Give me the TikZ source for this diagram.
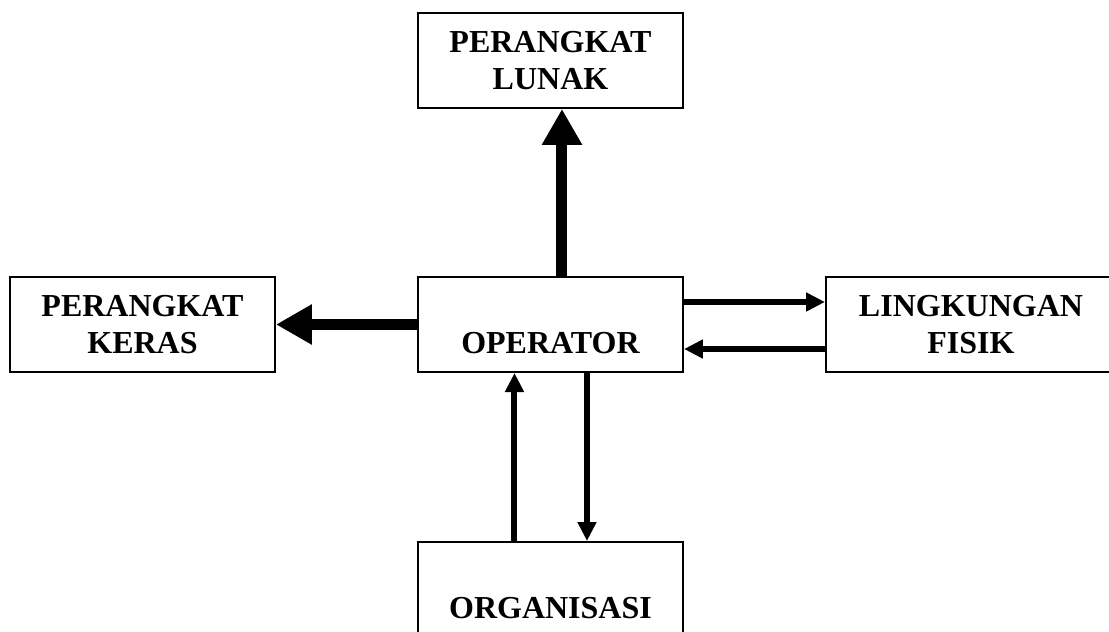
\documentclass[tikz,border=0pt]{standalone}
\usepackage{fontspec}
\setmainfont{Liberation Serif}
\usetikzlibrary{positioning, arrows.meta}

\begin{document}
\begin{tikzpicture}[font=\fontsize{32}{37.5}\selectfont\bfseries]

    \tikzstyle{block} = [draw, rectangle, line width=2pt, minimum width=265pt, minimum height=95pt, align=center, inner sep=0pt]
    \tikzstyle{bigarrow} = [line width=11pt, -{Triangle[length=36pt, width=38pt]}]
    \tikzstyle{smallarrow} = [line width=6pt, -{Triangle[length=19pt, width=18pt]}]

    \useasboundingbox (-550.5pt,-307.5pt) rectangle (558.5pt,324.5pt);

    % Centre
    \node[block] (op) {\vphantom{A}\\OPERATOR};

    % Around the operator
    \node[block, above of=op, node distance=264pt] (lunak) {PERANGKAT\\LUNAK};
    \node[block, left of=op, node distance=408pt] (keras) {PERANGKAT\\KERAS};
    \node[block, right of=op, node distance=420.5pt, minimum width=290pt] (fisik) {LINGKUNGAN\\FISIK};
    \node[block, below of=op, node distance=265pt] (org) {\vphantom{A}\\ORGANISASI};

    % Thick arrows
    \draw[bigarrow] ([xshift=11.5pt]op.north) -- ([xshift=11.5pt]lunak.south);
    \draw[bigarrow] (op.west) -- (keras.east);

    % Operator <-> lingkungan fisik
    \draw[smallarrow] ([yshift=22.5pt]op.east) -- ([yshift=22.5pt]fisik.west);
    \draw[smallarrow] ([yshift=-24.5pt]fisik.west) -- ([yshift=-24.5pt]op.east);

    % Operator <-> organisasi
    \draw[smallarrow] ([xshift=-36pt]org.north) -- ([xshift=-36pt]op.south);
    \draw[smallarrow] ([xshift=36.5pt]op.south) -- ([xshift=36.5pt]org.north);
\end{tikzpicture}
\end{document}
